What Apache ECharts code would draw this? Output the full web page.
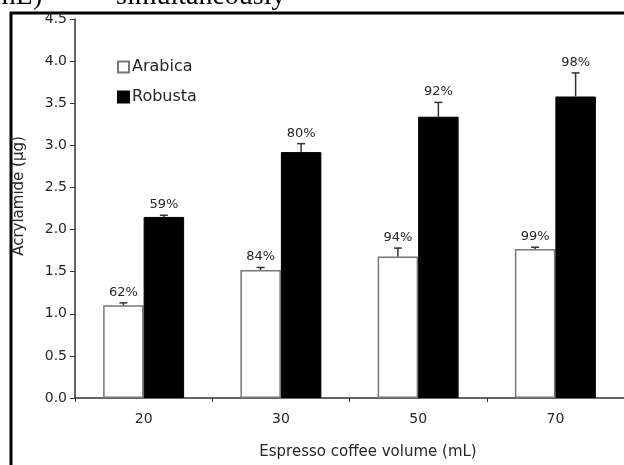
<!DOCTYPE html>
<html>
<head>
<meta charset="utf-8">
<title>Acrylamide in espresso coffee</title>
<script src="https://cdn.jsdelivr.net/npm/echarts@6/dist/echarts.min.js"></script>
<style>
  html, body { margin: 0; padding: 0; background: #fff; }
  #chart { width: 624px; height: 465px; }
</style>
</head>
<body>
<div id="chart"></div>
<script>
// Espresso volumes (mL)
const volumes = ['20', '30', '50', '70'];

// Acrylamide (µg) per cup, mean values
const arabica = [1.10, 1.52, 1.68, 1.77];
const robusta = [2.15, 2.92, 3.34, 3.58];

// Standard deviations (upper whiskers only)
const arabicaSd = [0.03, 0.03, 0.10, 0.02];
const robustaSd = [0.02, 0.10, 0.17, 0.28];

// Percentage labels above each bar
const arabicaPct = ['62%', '84%', '94%', '99%'];
const robustaPct = ['59%', '80%', '92%', '98%'];

// Y axis ticks
const yMin = 0, yMax = 4.5, yStep = 0.5;

const FONT = '"DejaVu Sans", Verdana, sans-serif';
const SERIF = '"Liberation Serif", "Times New Roman", serif';
const INK = '#262626';
const GAP = 0.41; // barCategoryGap fraction

function errorSeries(name, means, sds, pcts, side) {
  const data = means.map((m, i) => [i, m, m + sds[i], pcts[i]]);
  return {
    name: name + ' SD',
    type: 'custom',
    z: 5,
    silent: true,
    data: data,
    encode: { x: 0, y: [1, 2] },
    renderItem: function (params, api) {
      const idx = api.value(0);
      const band = api.size([1, 0])[0];
      const barW = band * (1 - GAP) / 2;
      const base = api.coord([idx, api.value(1)]);
      const cx = base[0] + side * barW / 2;
      const top = api.coord([idx, api.value(2)])[1];
      const cap = 4;
      const stroke = { stroke: '#333', lineWidth: 1.5 };
      return {
        type: 'group',
        children: [
          { type: 'line', shape: { x1: cx, y1: base[1], x2: cx, y2: top }, style: stroke },
          { type: 'line', shape: { x1: cx - cap, y1: top, x2: cx + cap, y2: top }, style: stroke },
          {
            type: 'text',
            style: {
              x: cx, y: top - 4,
              text: api.value(3),
              textAlign: 'center', textVerticalAlign: 'bottom',
              font: '13px ' + FONT, fill: INK
            }
          }
        ]
      };
    }
  };
}

const chart = echarts.init(document.getElementById('chart'), null, { renderer: 'canvas' });

chart.setOption({
  animation: false,
  backgroundColor: '#fff',
  textStyle: { fontFamily: FONT },
  grid: { left: 75, top: 19, bottom: 67, width: 560, containLabel: false },
  legend: {
    orient: 'vertical',
    left: 112, top: 54,
    itemWidth: 11, itemHeight: 11, itemGap: 14,
    icon: 'rect',
    data: ['Arabica', 'Robusta'],
    textStyle: { fontSize: 16, color: INK, fontFamily: FONT, padding: [0, 0, 0, -2] }
  },
  xAxis: {
    type: 'category',
    data: volumes,
    boundaryGap: true,
    axisLine: { lineStyle: { color: '#333', width: 1.5 } },
    axisTick: { show: true, length: 4, lineStyle: { color: '#333' } },
    axisLabel: { fontSize: 14, color: INK, margin: 14 }
  },
  yAxis: {
    type: 'value',
    min: yMin, max: yMax, interval: yStep,
    splitLine: { show: false },
    axisLine: { show: true, lineStyle: { color: '#333', width: 1.5 } },
    axisTick: { show: true, length: 5, lineStyle: { color: '#333' } },
    axisLabel: {
      fontSize: 14, color: INK, margin: 8,
      formatter: v => v.toFixed(1)
    }
  },
  series: [
    {
      name: 'Arabica',
      type: 'bar',
      data: arabica,
      barGap: '0%',
      barCategoryGap: (GAP * 100) + '%',
      itemStyle: { color: '#fff', borderColor: '#777', borderWidth: 1.5 }
    },
    {
      name: 'Robusta',
      type: 'bar',
      data: robusta,
      barGap: '0%',
      barCategoryGap: (GAP * 100) + '%',
      itemStyle: { color: '#000', borderColor: '#000', borderWidth: 1 }
    },
    errorSeries('Arabica', arabica, arabicaSd, arabicaPct, -1),
    errorSeries('Robusta', robusta, robustaSd, robustaPct, 1)
  ],
  graphic: [
    // caption text running above the figure
    { type: 'text', left: -6, top: -17, style: { text: 'mL)', font: '28px ' + SERIF, fill: '#000' } },
    { type: 'text', left: 116, top: -17, style: { text: 'simultaneously', font: '28px ' + SERIF, fill: '#000' } },
    // figure frame
    { type: 'line', shape: { x1: 11, y1: 12, x2: 11, y2: 465 }, style: { stroke: '#000', lineWidth: 3 } },
    { type: 'line', shape: { x1: 10, y1: 13, x2: 624, y2: 13 }, style: { stroke: '#000', lineWidth: 3 } },
    // axis titles
    {
      type: 'text', x: 19, y: 196, rotation: Math.PI / 2,
      style: { text: 'Acrylamide (µg)', font: '15px ' + FONT, fill: INK, textAlign: 'center', textVerticalAlign: 'middle' }
    },
    {
      type: 'text', x: 368, y: 452,
      style: { text: 'Espresso coffee volume (mL)', font: '15px ' + FONT, fill: INK, textAlign: 'center', textVerticalAlign: 'middle' }
    }
  ]
});
</script>
</body>
</html>
